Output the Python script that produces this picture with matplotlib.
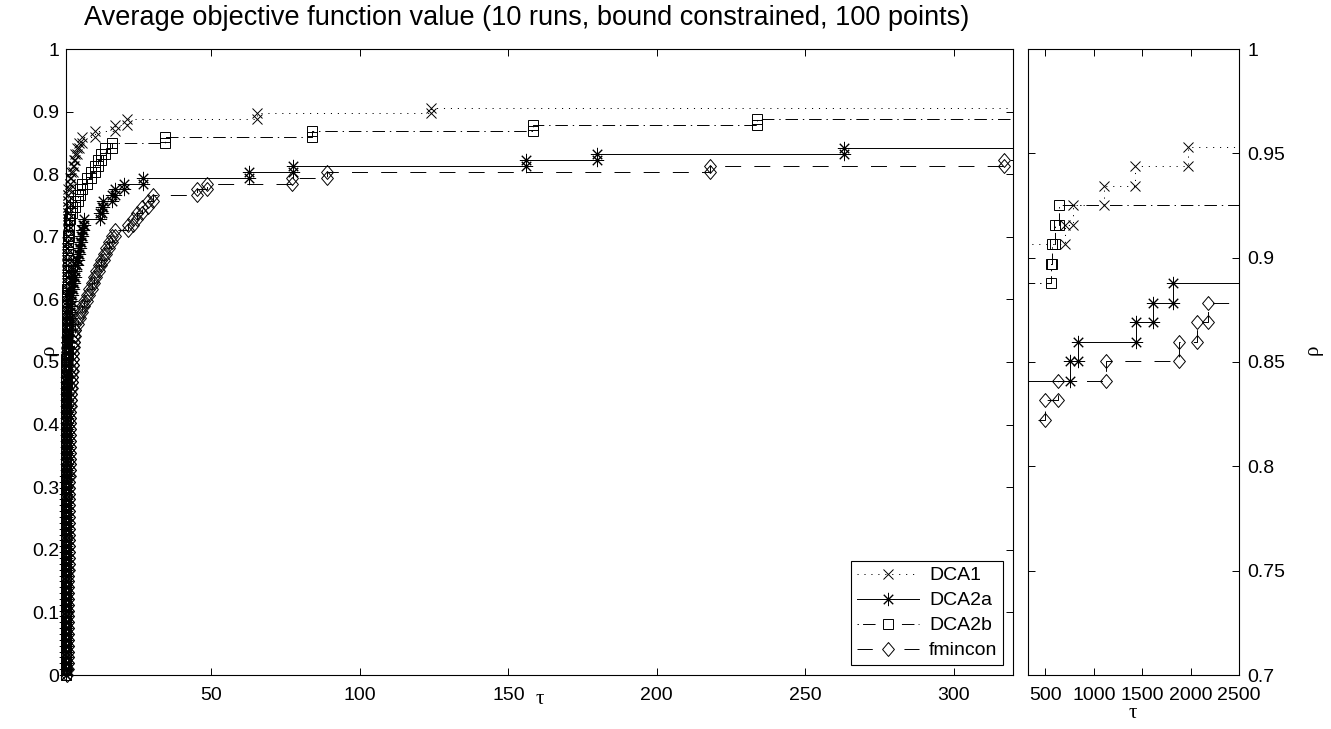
import numpy as np
import matplotlib
matplotlib.use('Agg')
import matplotlib.pyplot as plt
from matplotlib.lines import Line2D

plt.rcParams['font.family'] = ['Liberation Sans', 'DejaVu Sans']
plt.rcParams['lines.scale_dashes'] = False

# ---------------- data ----------------
n_problems = 107
solvers = ['DCA1', 'DCA2a', 'DCA2b', 'fmincon']

ratios_dca1 = ([1.0] * 40 +
               [1.0, 1.0, 1.01, 1.01, 1.02, 1.02, 1.03, 1.04, 1.05, 1.06,
                1.07, 1.08, 1.09, 1.1, 1.12, 1.14, 1.16, 1.18, 1.2, 1.22,
                1.24, 1.26, 1.28, 1.3, 1.32, 1.34, 1.36, 1.38, 1.4, 1.42,
                1.44, 1.46, 1.48, 1.5, 1.52, 1.54, 1.56, 1.58, 1.6, 1.62,
                1.65, 1.7, 1.8, 2.2, 2.5, 2.8, 3.2, 3.6, 4.2, 4.7,
                5.5, 6.4, 10.9, 17.4, 21.5, 65.2, 123.8,
                699, 784, 1110, 1428, 1976])

ratios_dca2a = ([1.0] * 26 +
                [1.02, 1.04, 1.06, 1.08, 1.1, 1.12, 1.14, 1.16, 1.18, 1.2,
                 1.22, 1.24, 1.26, 1.28, 1.3, 1.32, 1.34, 1.36, 1.38, 1.4,
                 1.42, 1.44, 1.46, 1.48, 1.5, 1.53, 1.56, 1.59, 1.62, 1.66,
                 1.7, 1.8, 1.9, 2.0, 2.1, 2.2, 2.4, 2.6, 2.8,
                 3.0, 3.3, 3.6, 3.9, 4.2, 4.6, 5.0, 5.4, 5.8, 6.2,
                 6.5, 6.8, 7.0,
                 12.4, 13.1, 13.6, 16.5, 17.5, 20.4, 27.0, 62.6, 77.3,
                 156, 180, 263, 759, 841, 1432, 1609, 1817])

ratios_dca2b = ([1.0] * 40 +
                [1.0, 1.01, 1.01, 1.02, 1.03, 1.04, 1.05, 1.06, 1.07, 1.08,
                 1.1, 1.12, 1.14, 1.16, 1.18, 1.2, 1.23, 1.26, 1.29, 1.32,
                 1.35, 1.38, 1.41, 1.44, 1.47, 1.5, 1.53, 1.56, 1.6, 1.64,
                 1.68, 1.72, 1.76, 1.8, 1.84, 1.88, 1.9,
                 2.0, 2.5, 3.0, 4.1, 5.2, 5.7, 6.3, 8.0, 9.3, 10.8,
                 11.9, 12.8, 14.2, 16.5, 34.4, 83.7, 158.3, 233.8,
                 557, 570, 598, 640])

ratios_fmincon = ([1.5, 1.52, 1.54, 1.56, 1.58, 1.6, 1.62, 1.64, 1.66, 1.68,
                   1.7, 1.72, 1.74, 1.76, 1.78, 1.8, 1.82, 1.84, 1.86, 1.88,
                   1.9, 1.92, 1.94, 1.96, 1.98, 2.0, 2.02, 2.04, 2.06, 2.08,
                   2.1, 2.12, 2.14, 2.16, 2.18, 2.2, 2.23, 2.26, 2.29, 2.32,
                   2.35, 2.38, 2.41, 2.44, 2.47, 2.5,
                   2.6, 2.7, 2.8, 2.9, 3.0, 3.1, 3.2, 3.3, 3.4, 3.5,
                   3.6, 3.75, 3.9,
                   4.1, 4.9, 5.7, 6.4, 7.2, 8.0, 8.8, 9.6, 10.4, 11.2,
                   12.0, 12.8, 13.7, 14.6, 15.5, 16.5, 17.6,
                   22.0, 23.5, 25.0, 26.5, 28.5, 30.4,
                   45.0, 48.4, 77.0, 88.8, 218, 317,
                   500, 630, 1125, 1875, 2063, 2183])

title_text = 'Average objective function value (10 runs, bound constrained, 100 points)'
left_xticks = [50, 100, 150, 200, 250, 300]
left_yticks = [0, 0.1, 0.2, 0.3, 0.4, 0.5, 0.6, 0.7, 0.8, 0.9, 1]
left_yticklabels = ['0', '0.1', '0.2', '0.3', '0.4', '0.5', '0.6', '0.7', '0.8', '0.9', '1']
right_xticks = [500, 1000, 1500, 2000, 2500]
right_yticks = [0.7, 0.75, 0.8, 0.85, 0.9, 0.95, 1]
right_yticklabels = ['0.7', '0.75', '0.8', '0.85', '0.9', '0.95', '1']
left_xlim = (1, 320)
right_xlim = (320, 2500)

# ---------------- styles ----------------
diamond = [(0, 1), (0.85, 0), (0, -1), (-0.85, 0), (0, 1)]
styles = {
    'DCA1':    dict(marker='x', ms=7, dashes=(0.8, 4.2), leg_dashes=(0.8, 4.2)),
    'DCA2a':   dict(marker=(8, 2, 0), ms=9.5, dashes=None, leg_dashes=None),
    'DCA2b':   dict(marker='s', ms=7, dashes=(9, 3.5, 1, 3.5),
                    leg_dashes=(1, 3, 9, 19, 9, 3)),
    'fmincon': dict(marker=diamond, ms=10, dashes=(11.5, 9.5), leg_dashes=(11, 22.8)),
}
all_ratios = {'DCA1': ratios_dca1, 'DCA2a': ratios_dca2a,
              'DCA2b': ratios_dca2b, 'fmincon': ratios_fmincon}


def stairs(r, n, xend):
    r = np.sort(np.asarray(r, float))
    k = np.arange(1, len(r) + 1) / n
    xs = np.repeat(r, 2)
    ys = np.empty_like(xs)
    ys[0::2] = np.concatenate([[0.0], k[:-1]])
    ys[1::2] = k
    xl = np.append(xs, xend)
    yl = np.append(ys, k[-1])
    return xl, yl, xs, ys


def apply_dash(line, dashes):
    if dashes is None:
        line.set_linestyle('-')
    else:
        line.set_dashes(dashes)


fig = plt.figure(figsize=(13.31, 7.29), dpi=100)
axL = fig.add_axes([66 / 1331, 54 / 729, 947 / 1331, 626 / 729])
axR = fig.add_axes([1028 / 1331, 54 / 729, 211 / 1331, 626 / 729])

for ax, (x0, x1), (y0, y1) in ((axL, left_xlim, (0, 1)), (axR, right_xlim, (0.7, 1))):
    for s in solvers:
        xl, yl, xm, ym = stairs(all_ratios[s], n_problems, 5000)
        st = styles[s]
        line, = ax.plot(xl, yl, color='black', lw=0.7)
        apply_dash(line, st['dashes'])
        inside = (xm >= x0) & (xm <= x1) & (ym >= y0) & (ym <= y1)
        ax.plot(xm[inside], ym[inside], ls='none', marker=st['marker'], ms=st['ms'],
                mew=0.7, mfc='none', mec='black', clip_on=False)

# legend proxies
handles = []
for s in solvers:
    st = styles[s]
    h = Line2D([], [], color='black', lw=0.7, marker=st['marker'], ms=st['ms'],
               mew=0.7, mfc='none', mec='black')
    apply_dash(h, st['leg_dashes'])
    handles.append(h)

# left axes
axL.set_xlim(*left_xlim)
axL.set_ylim(0, 1)
axL.set_xticks(left_xticks)
axL.set_yticks(left_yticks)
axL.set_yticklabels(left_yticklabels)
axL.tick_params(direction='in', length=5, width=0.7, top=True, right=True,
                labelsize=14)
axL.tick_params(axis='x', pad=8.5)
axL.tick_params(axis='y', pad=5)
leg = axL.legend(handles, solvers, loc='lower right', fontsize=14, frameon=True,
                 fancybox=False, edgecolor='black', handlelength=3.2,
                 borderaxespad=0.5, labelspacing=0.38, handletextpad=0.5,
                 borderpad=0.3)
leg.get_frame().set_linewidth(0.8)
leg.get_frame().set_alpha(1)

# right axes
axR.set_xlim(*right_xlim)
axR.set_ylim(0.7, 1)
axR.set_xticks(right_xticks)
axR.set_yticks(right_yticks)
axR.set_yticklabels(right_yticklabels)
axR.yaxis.tick_right()
axR.tick_params(direction='in', length=5, width=0.7, top=True, left=True, right=True,
                labelsize=14)
axR.tick_params(axis='x', pad=8.5)
axR.tick_params(axis='y', pad=6)

for ax in (axL, axR):
    for sp in ax.spines.values():
        sp.set_linewidth(0.8)

greek = ['Liberation Serif', 'DejaVu Serif']
fig.text(540 / 1331, 1 - 700 / 729, 'τ', ha='center', va='center', fontsize=15, family=greek)
fig.text(1133 / 1331, 1 - 714 / 729, 'τ', ha='center', va='center', fontsize=15, family=greek)
fig.text(49 / 1331, 1 - 350 / 729, 'ρ', ha='center', va='center', fontsize=15,
         family=greek, rotation=90)
fig.text(1313 / 1331, 1 - 350 / 729, 'ρ', ha='center', va='center', fontsize=15,
         family=greek, rotation=90)

fig.text(527 / 1331, 1 - 18 / 729, title_text, ha='center', va='center', fontsize=19.5)

fig.savefig('out.png', dpi=100)
